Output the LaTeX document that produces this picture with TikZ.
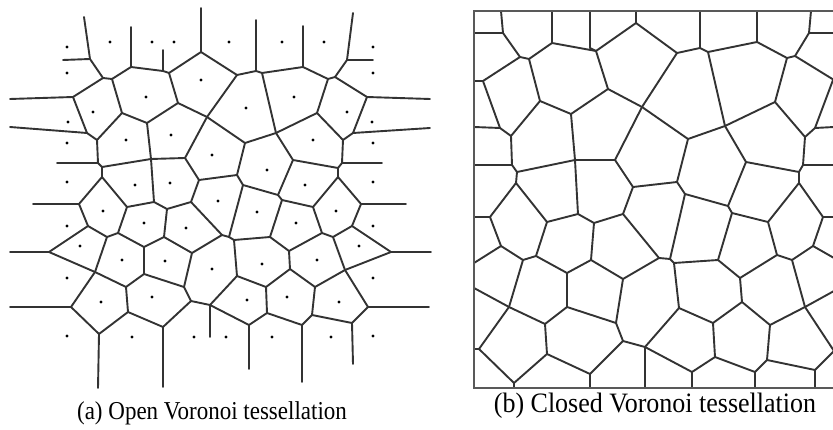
\documentclass[tikz,border=0pt]{standalone}
\usepackage{fontspec}
\setmainfont{Liberation Serif}
\begin{document}
\begin{tikzpicture}[x=1pt,y=-1pt,
  cell/.style={draw=black!80,line width=1.9pt,line cap=round,line join=round},
  frame/.style={draw=black!65,line width=1.9pt},
  seed/.style={fill=black,radius=1.6pt},
  caption/.style={inner sep=0pt}]
\useasboundingbox (0,0) rectangle (833,430);

% ---------- (a) open tessellation: bounded edges ----------
\foreach \ax/\ay/\bx/\by in {
 90/59/103/78, 103/78/112/79, 103/78/73/97, 73/97/87/133, 87/133/97/140,
 112/79/131/67, 131/67/163/71, 163/71/169/73, 169/73/201/52, 169/73/178/103,
 112/79/122/113, 122/113/97/140, 122/113/147/123, 147/123/178/103,
 178/103/207/117, 207/117/185/158, 147/123/151/159, 151/159/185/158,
 97/140/98/163, 98/163/102/167, 102/167/151/159, 102/167/102/177,
 102/177/79/204, 102/177/127/207, 151/159/154/202, 185/158/199/180,
 199/180/237/175, 199/180/191/202, 201/52/237/75, 237/75/256/71,
 256/71/262/73, 262/73/303/67, 303/67/328/79, 328/79/335/77,
 335/77/347/60, 335/77/367/97, 367/97/353/133, 353/133/343/140,
 328/79/317/113, 317/113/276/133, 317/113/343/140, 343/140/342/163,
 342/163/338/168, 338/168/293/160, 338/168/338/177, 338/177/313/207,
 338/177/361/204, 262/73/276/133, 276/133/245/143, 237/75/207/117,
 207/117/245/143, 276/133/293/160, 293/160/278/195, 245/143/237/175,
 237/175/243/185, 243/185/278/195, 243/185/229/237, 278/195/282/200,
 79/204/88/226, 127/207/154/202, 154/202/167/209, 167/209/191/202,
 191/202/222/235, 127/207/118/233, 88/226/107/237, 107/237/118/233,
 88/226/49/252, 49/252/95/272, 107/237/95/272, 118/233/144/247,
 144/247/164/237, 164/237/167/209, 164/237/192/253, 192/253/222/235,
 192/253/184/287, 144/247/144/274, 144/274/184/287, 144/274/126/287,
 95/272/126/287, 95/272/71/307, 71/307/99/334, 99/334/128/312,
 126/287/128/312, 128/312/163/327, 163/327/191/301, 184/287/191/301,
 191/301/210/305, 222/235/229/237, 229/237/234/240, 234/240/270/237,
 270/237/282/200, 282/200/313/207, 313/207/322/233, 322/233/333/237,
 333/237/352/226, 352/226/361/204, 352/226/391/252, 391/252/345/270,
 333/237/345/270, 270/237/289/251, 322/233/289/251, 289/251/290/269,
 290/269/266/287, 290/269/315/287, 345/270/315/287, 234/240/237/276,
 237/276/266/287, 237/276/210/305, 210/305/249/325, 249/325/267/313,
 266/287/267/313, 267/313/302/325, 302/325/312/315, 315/287/312/315,
 312/315/352/323, 352/323/368/307, 368/307/345/270}
  \draw[cell] (\ax,\ay) -- (\bx,\by);

% ---------- (a) open tessellation: unbounded rays ----------
\foreach \ax/\ay/\bx/\by in {
 90/59/84/17, 131/67/131/27, 163/71/163/50, 201/52/201/8,
 256/71/256/20, 303/67/303/26, 347/60/353/13,
 90/59/63/60, 73/97/10/99, 87/133/10/127, 98/163/57/163,
 79/204/33/204, 49/252/10/252, 71/307/10/307,
 347/60/373/60, 367/97/430/99, 353/133/430/128, 342/163/382/163,
 361/204/406/204, 391/252/431/252, 368/307/429/307,
 99/334/98/388, 163/327/163/387, 210/305/210/337, 249/325/249/369,
 302/325/302/382, 352/323/353/364}
  \draw[cell] (\ax,\ay) -- (\bx,\by);

% ---------- (a) generating points ----------
\foreach \px/\py in {
 67/47, 110/42, 152/42, 174/42, 67/73, 201/80, 146/97, 93/112, 68/122,
 67/143, 126/140, 171/135, 212/155, 67/182, 135/185, 170/183,
 229/42, 282/42, 324/42, 373/47, 373/73, 246/108, 294/97, 347/112,
 372/122, 373/143, 313/140, 267/170, 305/185, 373/182,
 103/211, 67/226, 144/223, 186/228, 218/201, 80/246, 122/260, 165/261,
 212/269, 67/278, 101/302, 152/297, 67/336, 132/337, 194/337,
 257/212, 296/223, 336/211, 373/226, 359/246, 262/264, 317/260,
 373/278, 247/300, 287/297, 339/302, 226/337, 272/337, 331/337, 373/336}
  \fill[seed] (\px,\py) circle;

% ---------- (b) closed tessellation ----------
\foreach \ax/\ay/\bx/\by in {
 501/11/503/33, 474/33/503/33, 503/33/520/57, 520/57/529/59,
 520/57/483/81, 474/81/483/81, 483/81/500/128, 474/127/500/128,
 500/128/511/136, 529/59/552/43, 552/11/552/43, 552/43/596/51,
 590/11/590/48, 590/48/596/51, 596/51/636/23, 636/11/636/23,
 636/23/677/53, 596/51/608/89, 529/59/540/101, 540/101/511/136,
 540/101/571/114, 571/114/608/89, 608/89/642/107, 642/107/615/160,
 571/114/575/160, 575/160/615/160, 511/136/512/165, 474/165/512/165,
 512/165/517/172, 517/172/575/160, 517/172/516/183, 516/183/490/217,
 516/183/547/222, 575/160/578/214, 615/160/633/187, 633/187/677/182,
 633/187/623/214, 677/53/700/48, 700/11/700/48, 700/48/708/52,
 708/52/757/42, 757/11/757/42, 757/42/787/58, 787/58/795/56,
 795/56/809/33, 809/33/811/11, 809/33/834/33, 795/56/834/80,
 787/58/775/102, 775/102/725/126, 708/52/725/126, 775/102/805/137,
 805/137/815/128, 815/128/834/127, 815/128/833/80, 805/137/803/165,
 803/165/834/165, 803/165/799/172, 799/172/746/162, 799/172/799/183,
 799/183/768/222, 799/183/823/217, 725/126/746/162, 746/162/728/206,
 725/126/688/139, 688/139/642/107, 677/53/642/107, 688/139/677/182,
 677/182/685/194, 685/194/728/206, 685/194/670/259, 728/206/732/213,
 732/213/768/222, 768/222/777/255, 777/255/792/260, 792/260/813/246,
 813/246/823/217, 823/217/834/217, 813/246/834/258, 732/213/718/260,
 718/260/674/263, 674/263/670/259, 670/259/659/258, 659/258/623/214,
 659/258/623/279, 674/263/679/308, 718/260/740/278, 740/278/777/255,
 740/278/742/302, 742/302/713/323, 679/308/713/323, 742/302/770/325,
 770/325/805/307, 792/260/805/307, 805/307/834/291, 805/307/834/351,
 815/370/834/351, 770/325/767/360, 767/360/815/370, 815/370/815/388,
 767/360/755/372, 755/372/755/388, 755/372/715/357, 713/323/715/357,
 715/357/692/372, 692/372/692/388, 692/372/645/347, 645/347/645/388,
 645/347/679/308, 645/347/623/341,
 474/217/490/217, 547/222/578/214, 578/214/594/223, 594/223/623/214,
 490/217/501/246, 501/246/523/260, 523/260/536/256, 536/256/547/222,
 474/263/501/246, 594/223/591/260, 591/260/567/273, 536/256/567/273,
 591/260/623/279, 623/279/616/323, 567/273/567/307, 567/307/616/323,
 567/307/545/324, 523/260/509/307, 474/288/509/307, 509/307/545/324,
 509/307/479/349, 474/349/479/349, 479/349/514/383, 514/383/514/388,
 514/383/547/354, 545/324/547/354, 547/354/590/374, 590/374/590/388,
 590/374/623/341, 616/323/623/341}
  \draw[cell] (\ax,\ay) -- (\bx,\by);
\draw[frame] (836,10.7) -- (474,10.7) -- (474,388) -- (836,388);

% ---------- captions ----------
\node[caption,font=\fontsize{23}{26}\selectfont,yscale=1.12] (capa) at (212,413)
  {(a) Open Voronoi tessellation};
\node[caption,font=\fontsize{26}{29}\selectfont,yscale=1.08] (capb) at (655,406)
  {(b) Closed Voronoi tessellation};
\end{tikzpicture}
\end{document}
